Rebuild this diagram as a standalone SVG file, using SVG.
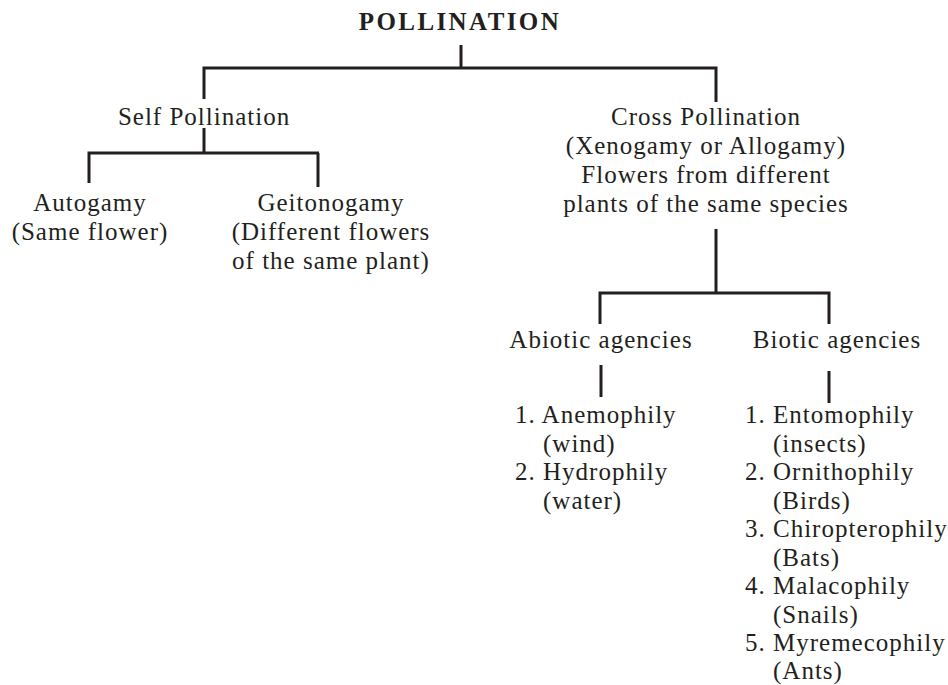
<svg xmlns="http://www.w3.org/2000/svg" width="948" height="685" viewBox="0 0 948 685">
<style>
text{font-family:"Liberation Serif","Times New Roman",serif;font-size:25px;letter-spacing:1px;fill:#231f20}
.c{text-anchor:middle}
.t{font-weight:bold;letter-spacing:2.4px}
#connectors path{fill:none;stroke:#231f20;stroke-width:3}
</style>
<rect width="948" height="685" fill="#fff"/>
<g id="connectors">
<path d="M461 45V68M204 99V68H716V102"/>
<path d="M204 128V153M89 183V153H319M318 153V187"/>
<path d="M716 229V293M600 324V293H829V324"/>
<path d="M601 365V397"/>
<path d="M829 371V403"/>
</g>
<g id="pollination"><text class="c t" x="460" y="30">POLLINATION</text></g>
<g id="self"><text class="c" x="204" y="125">Self Pollination</text></g>
<g id="autogamy"><text class="c" x="90" y="211">Autogamy</text><text class="c" x="90" y="240">(Same flower)</text></g>
<g id="geitonogamy"><text class="c" x="331" y="211">Geitonogamy</text><text class="c" x="331" y="240">(Different flowers</text><text class="c" x="331" y="269">of the same plant)</text></g>
<g id="cross"><text class="c" x="706" y="125">Cross Pollination</text><text class="c" x="706" y="154">(Xenogamy or Allogamy)</text><text class="c" x="706" y="183">Flowers from different</text><text class="c" x="706" y="212">plants of the same species</text></g>
<g id="abiotic"><text class="c" x="601" y="348">Abiotic agencies</text></g>
<g id="biotic"><text class="c" x="837" y="348">Biotic agencies</text></g>
<g id="abiotic-list">
<text x="515" y="423">1. Anemophily</text><text x="543" y="452">(wind)</text>
<text x="515" y="480">2. Hydrophily</text><text x="543" y="509">(water)</text>
</g>
<g id="biotic-list">
<text x="745" y="423">1. Entomophily</text><text x="773" y="452">(insects)</text>
<text x="745" y="480">2. Ornithophily</text><text x="773" y="509">(Birds)</text>
<text x="745" y="537">3. Chiropterophily</text><text x="773" y="566">(Bats)</text>
<text x="745" y="594">4. Malacophily</text><text x="773" y="623">(Snails)</text>
<text x="745" y="651">5. Myremecophily</text><text x="773" y="679">(Ants)</text>
</g>
</svg>
